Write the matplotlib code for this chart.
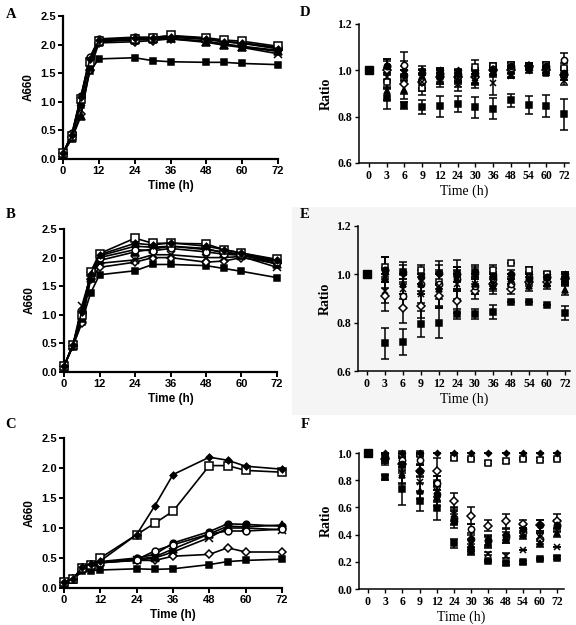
import matplotlib
matplotlib.use("Agg")
import matplotlib.pyplot as plt
from matplotlib.patches import Rectangle

times = [0, 3, 6, 9, 12, 24, 30, 36, 48, 54, 60, 72]
time_labels = ["0", "3", "6", "9", "12", "24", "30", "36", "48", "54", "60", "72"]
series_names = ["ctrl", "sq", "osq", "odia", "ocirc", "fcirc", "tri", "x"]

# ---- Growth curves (A660) ----
A_vals = {
    "ctrl": [0.1, 0.42, 1.08, 1.75, 2.08, 2.12, 2.12, 2.14, 2.10, 2.05, 2.02, 1.93],
    "sq": [0.1, 0.38, 0.95, 1.53, 1.75, 1.77, 1.72, 1.70, 1.69, 1.69, 1.67, 1.65],
    "osq": [0.1, 0.40, 1.05, 1.70, 2.06, 2.10, 2.12, 2.16, 2.12, 2.08, 2.06, 1.97],
    "odia": [0.1, 0.38, 0.78, 1.55, 2.03, 2.05, 2.07, 2.10, 2.06, 2.01, 1.97, 1.90],
    "ocirc": [0.1, 0.45, 1.10, 1.78, 2.10, 2.13, 2.13, 2.15, 2.11, 2.05, 2.03, 1.95],
    "fcirc": [0.1, 0.44, 1.08, 1.76, 2.08, 2.12, 2.11, 2.13, 2.09, 2.05, 2.03, 1.93],
    "tri": [0.1, 0.36, 0.75, 1.60, 2.05, 2.08, 2.09, 2.11, 2.05, 2.00, 1.96, 1.88],
    "x": [0.1, 0.40, 1.00, 1.70, 2.07, 2.10, 2.09, 2.10, 2.04, 1.99, 1.95, 1.84],
}
B_vals = {
    "ctrl": [0.1, 0.48, 1.05, 1.72, 2.05, 2.25, 2.22, 2.26, 2.20, 2.14, 2.08, 1.95],
    "sq": [0.1, 0.45, 0.88, 1.38, 1.70, 1.77, 1.88, 1.88, 1.86, 1.81, 1.76, 1.65],
    "osq": [0.1, 0.48, 1.00, 1.75, 2.07, 2.34, 2.25, 2.25, 2.24, 2.14, 2.08, 1.97],
    "odia": [0.1, 0.45, 0.85, 1.62, 1.83, 1.92, 2.00, 2.00, 1.92, 1.94, 2.00, 1.90],
    "ocirc": [0.1, 0.47, 1.02, 1.70, 2.00, 2.14, 2.12, 2.16, 2.10, 2.06, 2.04, 1.92],
    "fcirc": [0.1, 0.47, 1.05, 1.72, 2.03, 2.20, 2.18, 2.20, 2.14, 2.10, 2.06, 1.93],
    "tri": [0.1, 0.46, 0.95, 1.65, 1.95, 2.10, 2.15, 2.20, 2.16, 2.08, 2.05, 1.88],
    "x": [0.1, 0.47, 1.15, 1.68, 1.90, 1.96, 2.05, 2.05, 2.00, 2.00, 2.02, 1.83],
}
C_vals = {
    "ctrl": [0.1, 0.15, 0.35, 0.40, 0.45, 0.89, 1.37, 1.89, 2.18, 2.13, 2.03, 1.98],
    "sq": [0.1, 0.14, 0.28, 0.29, 0.30, 0.32, 0.31, 0.32, 0.39, 0.44, 0.46, 0.48],
    "osq": [0.1, 0.15, 0.33, 0.38, 0.50, 0.89, 1.08, 1.28, 2.04, 2.04, 1.96, 1.93],
    "odia": [0.1, 0.15, 0.32, 0.36, 0.42, 0.46, 0.46, 0.53, 0.56, 0.67, 0.60, 0.60],
    "ocirc": [0.1, 0.15, 0.34, 0.40, 0.42, 0.47, 0.62, 0.72, 0.90, 0.95, 0.95, 0.98],
    "fcirc": [0.1, 0.15, 0.35, 0.40, 0.44, 0.50, 0.56, 0.75, 0.94, 1.07, 1.06, 1.03],
    "tri": [0.1, 0.15, 0.33, 0.38, 0.43, 0.48, 0.52, 0.65, 0.90, 1.03, 1.02, 1.05],
    "x": [0.1, 0.15, 0.34, 0.38, 0.43, 0.46, 0.50, 0.60, 0.84, 1.00, 1.00, 0.97],
}

# ---- Ratios ----
D_vals = {
    "ctrl": [1.0] * 12,
    "osq": [1.0, 0.95, 0.97, 0.925, 0.98, 0.96, 1.015, 1.02, 1.025, 1.02, 1.025, 1.01],
    "odia": [1.0, 1.00, 0.94, 0.95, 0.97, 0.97, 0.97, 1.00, 1.00, 1.02, 1.00, 0.98],
    "ocirc": [1.0, 1.02, 1.025, 0.955, 0.985, 0.975, 0.975, 1.005, 1.01, 1.015, 1.01, 1.045],
    "fcirc": [1.0, 1.02, 0.98, 0.99, 0.99, 0.985, 0.99, 1.00, 1.02, 1.02, 1.02, 0.99],
    "tri": [1.0, 0.91, 0.915, 0.975, 0.97, 0.96, 0.955, 0.99, 0.98, 1.01, 0.99, 0.98],
    "x": [1.0, 0.97, 0.99, 0.95, 0.96, 0.94, 0.965, 0.945, 0.975, 1.00, 1.00, 0.955],
    "sq": [1.0, 0.88, 0.85, 0.84, 0.845, 0.855, 0.84, 0.835, 0.87, 0.85, 0.845, 0.81],
}
D_err = {
    "ctrl": [0] * 12,
    "osq": [0, 0.03, 0.03, 0.03, 0.03, 0.02, 0.03, 0.01, 0.01, 0.01, 0.01, 0.02],
    "odia": [0, 0.04, 0.04, 0.03, 0.03, 0.02, 0.03, 0.02, 0.01, 0.01, 0.01, 0.02],
    "ocirc": [0, 0.03, 0.055, 0.03, 0.02, 0.02, 0.03, 0.02, 0.01, 0.01, 0.01, 0.03],
    "fcirc": [0, 0.03, 0.04, 0.03, 0.02, 0.02, 0.02, 0.02, 0.01, 0.01, 0.01, 0.02],
    "tri": [0, 0.04, 0.04, 0.03, 0.03, 0.03, 0.03, 0.02, 0.01, 0.01, 0.01, 0.02],
    "x": [0, 0.04, 0.05, 0.04, 0.03, 0.03, 0.03, 0.05, 0.01, 0.01, 0.01, 0.02],
    "sq": [0, 0.045, 0.015, 0.03, 0.045, 0.035, 0.045, 0.045, 0.028, 0.04, 0.048, 0.068],
}
E_vals = {
    "ctrl": [1.0] * 12,
    "osq": [1.0, 1.03, 1.01, 1.02, 0.97, 1.00, 1.01, 1.02, 1.045, 1.02, 1.00, 0.98],
    "odia": [1.0, 0.91, 0.86, 0.87, 0.91, 0.89, 0.93, 0.96, 0.94, 0.97, 0.97, 0.98],
    "ocirc": [1.0, 1.02, 0.91, 0.96, 0.96, 0.98, 0.95, 0.98, 0.96, 0.99, 0.99, 0.99],
    "fcirc": [1.0, 1.02, 1.01, 0.99, 1.005, 1.00, 1.01, 0.995, 1.00, 0.98, 0.99, 0.99],
    "tri": [1.0, 0.985, 0.96, 0.96, 0.94, 0.98, 0.96, 0.95, 0.98, 0.95, 0.96, 0.935],
    "x": [1.0, 0.93, 0.94, 0.92, 0.95, 0.96, 0.96, 0.97, 0.97, 0.99, 0.97, 0.97],
    "sq": [1.0, 0.715, 0.72, 0.795, 0.80, 0.835, 0.835, 0.845, 0.885, 0.885, 0.875, 0.84],
}
E_err = {
    "ctrl": [0] * 12,
    "osq": [0, 0.04, 0.03, 0.02, 0.03, 0.03, 0.02, 0.02, 0.0, 0.01, 0.01, 0.02],
    "odia": [0, 0.06, 0.06, 0.05, 0.05, 0.05, 0.03, 0.03, 0.02, 0.02, 0.02, 0.02],
    "ocirc": [0, 0.05, 0.05, 0.04, 0.06, 0.05, 0.03, 0.03, 0.02, 0.02, 0.02, 0.02],
    "fcirc": [0, 0.05, 0.04, 0.03, 0.05, 0.06, 0.03, 0.03, 0.02, 0.02, 0.02, 0.02],
    "tri": [0, 0.04, 0.04, 0.03, 0.07, 0.05, 0.04, 0.03, 0.02, 0.02, 0.02, 0.02],
    "x": [0, 0.05, 0.04, 0.04, 0.09, 0.06, 0.03, 0.03, 0.02, 0.02, 0.02, 0.02],
    "sq": [0, 0.065, 0.053, 0.055, 0.065, 0.02, 0.02, 0.028, 0, 0, 0, 0.03],
}
F_vals = {
    "osq": [1.0, 0.97, 0.99, 0.99, 0.78, 0.96, 0.955, 0.93, 0.94, 0.955, 0.95, 0.955],
    "odia": [1.0, 0.955, 0.92, 0.87, 0.87, 0.65, 0.54, 0.465, 0.50, 0.48, 0.47, 0.50],
    "ocirc": [1.0, 0.96, 0.95, 0.95, 0.78, 0.52, 0.44, 0.36, 0.38, 0.42, 0.37, 0.47],
    "fcirc": [1.0, 0.97, 0.92, 0.87, 0.70, 0.50, 0.37, 0.35, 0.40, 0.44, 0.47, 0.46],
    "tri": [1.0, 0.97, 0.84, 0.72, 0.68, 0.53, 0.32, 0.34, 0.37, 0.40, 0.34, 0.41],
    "x": [1.0, 0.96, 0.85, 0.79, 0.72, 0.55, 0.33, 0.26, 0.245, 0.29, 0.38, 0.31],
    "sq": [1.0, 0.82, 0.735, 0.645, 0.595, 0.335, 0.28, 0.205, 0.19, 0.195, 0.22, 0.23],
    "ctrl": [1.0] * 12,
}
F_err = {
    "osq": [0, 0.02, 0.01, 0.01, 0.05, 0.01, 0.01, 0.01, 0.01, 0.01, 0.01, 0.01],
    "odia": [0, 0.04, 0.04, 0.04, 0.09, 0.055, 0.065, 0.04, 0.05, 0.03, 0.04, 0.05],
    "ocirc": [0, 0.03, 0.05, 0.04, 0.05, 0.05, 0.04, 0.04, 0.04, 0.03, 0.04, 0.04],
    "fcirc": [0, 0.03, 0.05, 0.05, 0.06, 0.05, 0.04, 0.04, 0.04, 0.03, 0.04, 0.04],
    "tri": [0, 0.03, 0.06, 0.06, 0.07, 0.05, 0.04, 0.04, 0.03, 0.03, 0.03, 0.03],
    "x": [0, 0.03, 0.08, 0.07, 0.07, 0.05, 0.04, 0.01, 0.02, 0, 0.03, 0],
    "sq": [0, 0.02, 0.12, 0.07, 0.085, 0.03, 0.03, 0.01, 0.01, 0.01, 0.01, 0.01],
    "ctrl": [0] * 12,
}

# marker styles
mstyle = {
    "ctrl": dict(marker="D", mfc="black", ms=2.8),
    "sq": dict(marker="s", mfc="black", ms=4.2),
    "osq": dict(marker="s", mfc="white", ms=4.5),
    "odia": dict(marker="D", mfc="white", ms=3.6),
    "ocirc": dict(marker="o", mfc="white", ms=4.3),
    "fcirc": dict(marker="o", mfc="black", ms=4.2),
    "tri": dict(marker="^", mfc="black", ms=4.5),
    "x": dict(marker="x", mfc="black", ms=4.5),
}

W, H = 576, 625
fig = plt.figure(figsize=(W / 100, H / 100), dpi=100)

# light gray background behind panel E
fig.patches.append(Rectangle((292 / W, 1 - 415 / H), 1 - 292 / W, (415 - 207) / H,
                             transform=fig.transFigure, facecolor="#f5f5f5",
                             edgecolor="none", zorder=-10))

def box(l, r, t, b):
    return [l / W, 1 - b / H, (r - l) / W, (b - t) / H]

sans = "Liberation Sans"
serif = "Liberation Serif"

def growth(ax, vals):
    order = ["sq", "odia", "tri", "x", "fcirc", "ocirc", "osq", "ctrl"]
    for k in order:
        st = mstyle[k]
        ax.plot(times, vals[k], color="black", lw=1.2, marker=st["marker"],
                mfc=st["mfc"], mec="black", mew=1.1, ms=st["ms"] + 0.6, clip_on=False, zorder=3)
    ax.set_xlim(0, 72)
    ax.set_ylim(0, 2.5)
    ax.set_xticks([0, 12, 24, 36, 48, 60, 72])
    ax.set_yticks([0.0, 0.5, 1.0, 1.5, 2.0, 2.5])
    ax.set_yticklabels(["0.0", "0.5", "1.0", "1.5", "2.0", "2.5"])
    for s in ["top", "right"]:
        ax.spines[s].set_visible(False)
    for s in ["left", "bottom"]:
        ax.spines[s].set_linewidth(1.6)
    ax.tick_params(direction="out", width=1.4, length=3.5, pad=1.5)
    for lab in ax.get_xticklabels() + ax.get_yticklabels():
        lab.set_fontfamily(sans)
        lab.set_fontweight("bold")
        lab.set_fontsize(8)
    ax.set_xlabel("Time (h)", fontfamily=sans, fontweight="bold", fontsize=8.5, labelpad=3)
    ax.set_ylabel("A660", fontfamily=sans, fontweight="bold", fontsize=8.5, labelpad=4)
    ax.patch.set_alpha(0)

def ratio(ax, vals, errs, ylim, yticks, xlim):
    pos = list(range(len(times)))
    for k in vals:
        ax.errorbar(pos[1:], vals[k][1:], yerr=errs[k][1:], fmt="none", ecolor="black",
                    elinewidth=1.1, capsize=2.6, capthick=1.1, clip_on=False, zorder=2)
    for k in vals:
        st = mstyle[k]
        ms = st["ms"] + 0.2
        ax.plot(pos[1:], vals[k][1:], ls="none", marker=st["marker"], mfc=st["mfc"],
                mec="black", mew=1.1, ms=ms, clip_on=False, zorder=3)
    ax.plot(pos[:1], vals["sq"][:1], ls="none", marker="s", mfc="black", mec="black",
            ms=5.8, clip_on=False, zorder=4)
    ax.set_xlim(*xlim)
    ax.set_ylim(*ylim)
    ax.set_xticks(pos)
    ax.set_xticklabels(time_labels)
    ax.set_yticks(yticks)
    ax.set_yticklabels(["%.1f" % v for v in yticks])
    for s in ["top", "right"]:
        ax.spines[s].set_visible(False)
    for s in ["left", "bottom"]:
        ax.spines[s].set_linewidth(1.1)
    ax.tick_params(direction="out", width=1.0, length=3, pad=2)
    for lab in ax.get_xticklabels() + ax.get_yticklabels():
        lab.set_fontfamily(serif)
        lab.set_fontweight("bold")
        lab.set_fontsize(8.5)
    ax.set_xlabel("Time (h)", fontfamily=serif, fontsize=10, labelpad=2)
    ax.set_ylabel("Ratio", fontfamily=serif, fontweight="bold", fontsize=10, labelpad=3)
    ax.patch.set_alpha(0)

axA = fig.add_axes(box(63, 278, 16, 159))
growth(axA, A_vals)
axB = fig.add_axes(box(64, 277, 229, 372))
growth(axB, B_vals)
axC = fig.add_axes(box(64, 282, 438, 588))
growth(axC, C_vals)

axD = fig.add_axes(box(359, 569, 24, 163))
ratio(axD, D_vals, D_err, (0.6, 1.2), [0.6, 0.8, 1.0, 1.2], (-0.56, 11.28))
axE = fig.add_axes(box(358, 570, 226, 371))
ratio(axE, E_vals, E_err, (0.6, 1.2), [0.6, 0.8, 1.0, 1.2], (-0.5, 11.28))
axF = fig.add_axes(box(359, 564, 453, 589))
ratio(axF, F_vals, F_err, (0.0, 1.0), [0.0, 0.2, 0.4, 0.6, 0.8, 1.0], (-0.52, 11.4))

for letter, x, y in [("A", 11, 15), ("B", 11, 215), ("C", 11, 425),
                     ("D", 305, 13), ("E", 305, 215), ("F", 305, 425)]:
    fig.text(x / W, 1 - y / H, letter, fontfamily=serif, fontweight="bold",
             fontsize=10.5, ha="center", va="center")

fig.savefig("out.png", dpi=100)
